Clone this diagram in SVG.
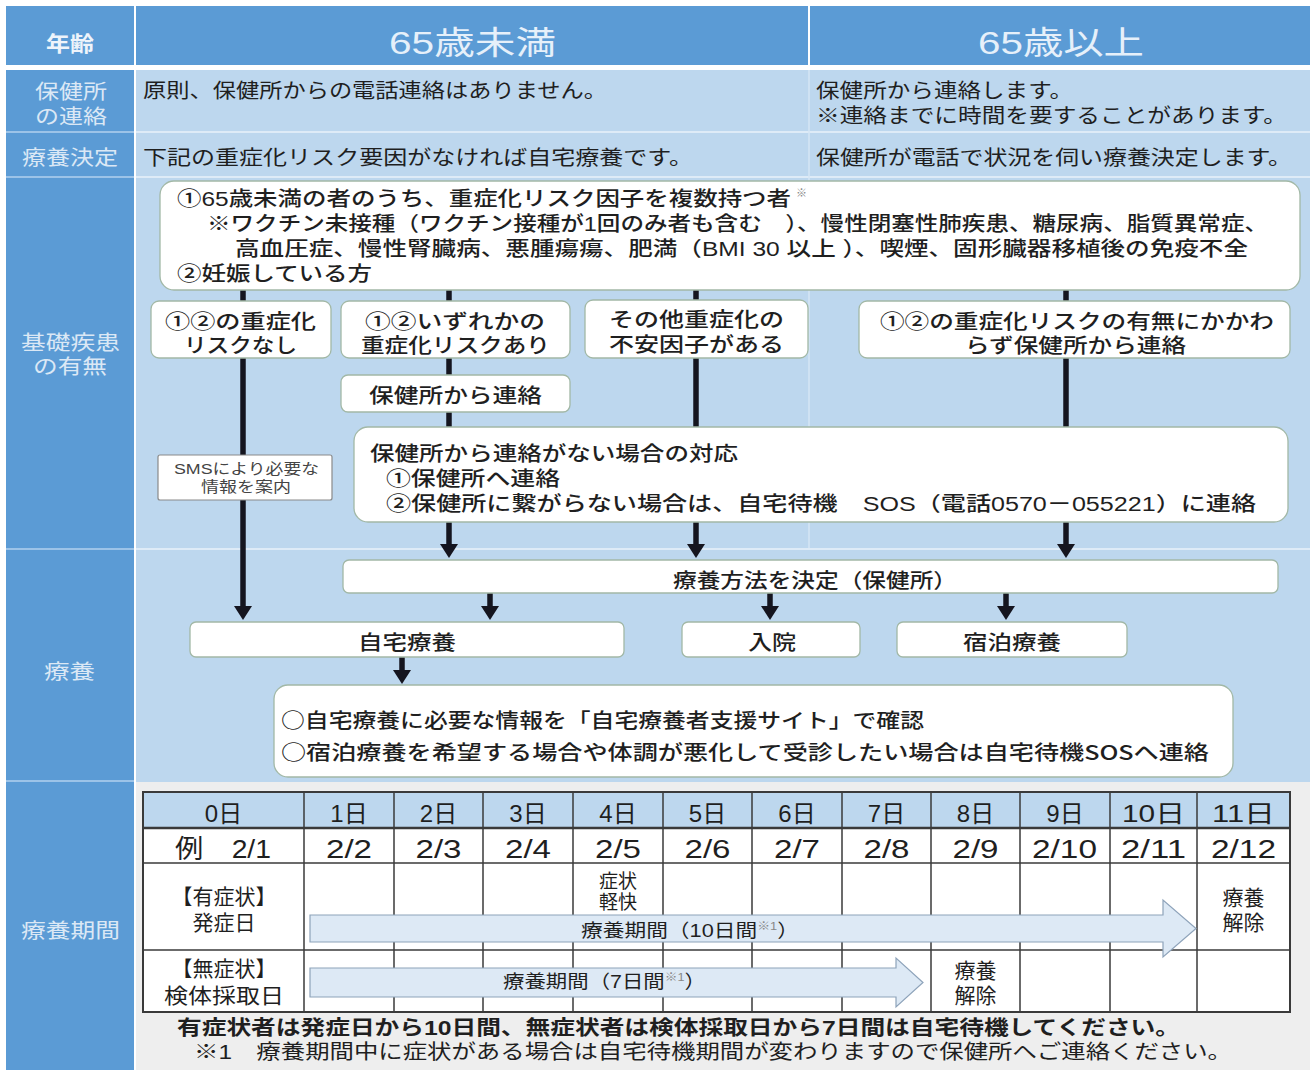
<svg xmlns="http://www.w3.org/2000/svg" width="1310" height="1070" viewBox="0 0 1310 1070">
<defs>
<style>
text { font-family: "Liberation Sans", "Noto Sans CJK JP", sans-serif; fill: #1f1f1f; font-size: 20px; font-weight: 500; }
.cjk { font-family: "Noto Sans CJK JP", "Liberation Sans", sans-serif; }
.lab { fill: #dbe8f5; font-size: 20.5px; font-weight: 400; }
.hdr { fill: #e6f0fa; font-size: 32px; font-weight: 400; }
.c { text-anchor: middle; }
.sm { font-size: 14.5px; fill: #444; font-weight: 400; }
.tb { font-size: 24px; font-weight: 400; }
.dt { font-size: 26px; font-weight: 400; }
.rl { font-size: 21px; font-weight: 400; }
.ar { font-size: 18.5px; font-weight: 400; }
.sup { font-size: 11px; fill: #888; }
.box { fill: #ffffff; stroke: #a2b8a6; stroke-width: 1.3; }
.sms { fill: #ffffff; stroke: #8a8a8a; stroke-width: 1.2; }
.lsep { stroke: #9cc3e8; stroke-width: 2; }
.sep { stroke: #deebf7; stroke-width: 2; }
.con { stroke: #15151f; stroke-width: 5.5; fill: none; }
.arr { marker-end: url(#ah); }
.grid { stroke: #3a3a3a; stroke-width: 1.5; fill: none; }
.blk { fill: #dde9f5; stroke: #8ea3ba; stroke-width: 1.2; }
</style>
<marker id="ah" viewBox="0 0 14 18" refX="1" refY="9" markerWidth="14" markerHeight="18" markerUnits="userSpaceOnUse" orient="auto">
<path d="M0,0 L14,9 L0,18 z" fill="#15151f"/>
</marker>
</defs>

<rect width="1310" height="1070" fill="#ffffff"/>

<g id="frame">
<rect x="6" y="6" width="128" height="59" fill="#5b9bd5"/>
<rect x="136" y="6" width="672" height="59" fill="#5b9bd5"/>
<rect x="810" y="6" width="500" height="59" fill="#5b9bd5"/>
<rect x="6" y="70" width="128" height="1000" fill="#5b9bd5"/>
<rect x="136" y="70" width="1174" height="712" fill="#bdd7ee"/>
<rect x="136" y="782" width="1174" height="288" fill="#eeeeee"/>
<line class="lsep" x1="6" y1="132" x2="134" y2="132"/>
<line class="lsep" x1="6" y1="177" x2="134" y2="177"/>
<line class="lsep" x1="6" y1="549" x2="134" y2="549"/>
<line class="lsep" x1="6" y1="781" x2="134" y2="781"/>
<line class="sep" x1="136" y1="132" x2="1310" y2="132"/>
<line class="sep" x1="136" y1="177" x2="1310" y2="177"/>
<line class="sep" x1="136" y1="549" x2="1310" y2="549"/>
<line x1="809" y1="70" x2="809" y2="548" stroke="#d6e6f5" stroke-width="1.5"/>
</g>

<g id="headers">
<text x="46" y="51" textLength="48" lengthAdjust="spacingAndGlyphs" style="fill:#eef4fb;font-size:21px;font-weight:700">年齢</text>
<text class="hdr" x="389" y="54" textLength="167" lengthAdjust="spacingAndGlyphs">65歳未満</text>
<text class="hdr" x="978" y="54" textLength="166" lengthAdjust="spacingAndGlyphs">65歳以上</text>
<text class="lab"><tspan x="35" y="99" textLength="72" lengthAdjust="spacingAndGlyphs">保健所</tspan><tspan x="35" y="124" textLength="72" lengthAdjust="spacingAndGlyphs">の連絡</tspan></text>
<text class="lab" x="22" y="165" textLength="96" lengthAdjust="spacingAndGlyphs">療養決定</text>
<text class="lab"><tspan x="21" y="350" textLength="99" lengthAdjust="spacingAndGlyphs">基礎疾患</tspan><tspan x="33" y="374" textLength="74" lengthAdjust="spacingAndGlyphs">の有無</tspan></text>
<text class="lab" x="44" y="679" textLength="51" lengthAdjust="spacingAndGlyphs">療養</text>
<text class="lab" x="21" y="938" textLength="99" lengthAdjust="spacingAndGlyphs">療養期間</text>
</g>

<g id="row-contact">
<text x="143" y="98" textLength="464" lengthAdjust="spacingAndGlyphs" style="font-weight:400">原則、保健所からの電話連絡はありません。</text>
<text style="font-weight:400"><tspan x="816" y="98" textLength="257" lengthAdjust="spacingAndGlyphs">保健所から連絡します。</tspan><tspan x="816" y="123" textLength="471" lengthAdjust="spacingAndGlyphs">※連絡までに時間を要することがあります。</tspan></text>
</g>

<g id="row-decision">
<text x="143" y="165" textLength="550" lengthAdjust="spacingAndGlyphs" style="font-weight:400">下記の重症化リスク要因がなければ自宅療養です。</text>
<text x="816" y="165" textLength="476" lengthAdjust="spacingAndGlyphs" style="font-weight:400">保健所が電話で状況を伺い療養決定します。</text>
</g>

<g id="connectors">
<line class="con" x1="243" y1="290" x2="243" y2="302"/>
<line class="con" x1="449" y1="290" x2="449" y2="302"/>
<line class="con" x1="696" y1="290" x2="696" y2="300"/>
<line class="con" x1="1066" y1="290" x2="1066" y2="302"/>
<line class="con" x1="243" y1="358" x2="243" y2="455"/>
<line class="con arr" x1="243" y1="500" x2="243" y2="607"/>
<line class="con" x1="449" y1="358" x2="449" y2="375"/>
<line class="con" x1="449" y1="412" x2="449" y2="427"/>
<line class="con arr" x1="449" y1="522" x2="449" y2="545"/>
<line class="con" x1="696" y1="358" x2="696" y2="427"/>
<line class="con arr" x1="696" y1="522" x2="696" y2="545"/>
<line class="con" x1="1066" y1="358" x2="1066" y2="427"/>
<line class="con arr" x1="1066" y1="522" x2="1066" y2="545"/>
<line class="con arr" x1="490" y1="593" x2="490" y2="607"/>
<line class="con arr" x1="770" y1="593" x2="770" y2="607"/>
<line class="con arr" x1="1006" y1="593" x2="1006" y2="607"/>
<line class="con arr" x1="402" y1="657" x2="402" y2="671"/>
</g>

<g id="node-risk-factors">
<rect class="box" x="160" y="181" width="1140" height="109" rx="14"/>
<text><tspan x="177" y="206" textLength="614" lengthAdjust="spacingAndGlyphs">①65歳未満の者のうち、重症化リスク因子を複数持つ者</tspan><tspan class="sup" x="796" y="197">※</tspan><tspan x="207" y="231" textLength="1061" lengthAdjust="spacingAndGlyphs">※ワクチン未接種（ワクチン接種が1回のみ者も含む　）、慢性閉塞性肺疾患、糖尿病、脂質異常症、</tspan><tspan x="235" y="256" textLength="1013" lengthAdjust="spacingAndGlyphs">高血圧症、慢性腎臓病、悪腫瘍瘍、肥満（BMI 30 以上 ）、喫煙、固形臓器移植後の免疫不全</tspan><tspan x="177" y="281" textLength="195" lengthAdjust="spacingAndGlyphs">②妊娠している方</tspan></text>
</g>

<g id="node-no-risk">
<rect class="box" x="151" y="301" width="180" height="57" rx="8"/>
<text><tspan x="165" y="329" textLength="151" lengthAdjust="spacingAndGlyphs">①②の重症化</tspan><tspan x="184" y="353" textLength="113" lengthAdjust="spacingAndGlyphs">リスクなし</tspan></text>
</g>

<g id="node-has-risk">
<rect class="box" x="341" y="301" width="229" height="57" rx="8"/>
<text><tspan x="365" y="329" textLength="180" lengthAdjust="spacingAndGlyphs">①②いずれかの</tspan><tspan x="361" y="353" textLength="189" lengthAdjust="spacingAndGlyphs">重症化リスクあり</tspan></text>
</g>

<g id="node-other-risk">
<rect class="box" x="585" y="300" width="223" height="58" rx="8"/>
<text><tspan x="609" y="327" textLength="175" lengthAdjust="spacingAndGlyphs">その他重症化の</tspan><tspan x="609" y="352" textLength="175" lengthAdjust="spacingAndGlyphs">不安因子がある</tspan></text>
</g>

<g id="node-over65">
<rect class="box" x="859" y="301" width="431" height="57" rx="8"/>
<text><tspan x="880" y="329" textLength="394" lengthAdjust="spacingAndGlyphs">①②の重症化リスクの有無にかかわ</tspan><tspan x="965" y="353" textLength="221" lengthAdjust="spacingAndGlyphs">らず保健所から連絡</tspan></text>
</g>

<g id="node-contact">
<rect class="box" x="341" y="375" width="229" height="37" rx="7"/>
<text x="369" y="403" textLength="173" lengthAdjust="spacingAndGlyphs">保健所から連絡</text>
</g>

<g id="node-sms">
<rect class="sms" x="158" y="455" width="174" height="45" rx="2"/>
<text class="sm"><tspan x="174" y="474" textLength="145" lengthAdjust="spacingAndGlyphs">SMSにより必要な</tspan><tspan x="201" y="492" textLength="90" lengthAdjust="spacingAndGlyphs">情報を案内</tspan></text>
</g>

<g id="node-no-contact">
<rect class="box" x="354" y="427" width="934" height="95" rx="14"/>
<text><tspan x="370" y="461" textLength="368" lengthAdjust="spacingAndGlyphs">保健所から連絡がない場合の対応</tspan><tspan x="386" y="486" textLength="174" lengthAdjust="spacingAndGlyphs">①保健所へ連絡</tspan><tspan x="386" y="511" textLength="870" lengthAdjust="spacingAndGlyphs">②保健所に繋がらない場合は、自宅待機　SOS（電話0570－055221）に連絡</tspan></text>
</g>

<g id="node-decide">
<rect class="box" x="343" y="560" width="935" height="33" rx="6"/>
<text x="673" y="588" textLength="284" lengthAdjust="spacingAndGlyphs">療養方法を決定（保健所）</text>
</g>

<g id="node-home">
<rect class="box" x="190" y="622" width="434" height="35" rx="6"/>
<text x="358" y="650" textLength="98" lengthAdjust="spacingAndGlyphs">自宅療養</text>
</g>

<g id="node-hospital">
<rect class="box" x="682" y="622" width="178" height="35" rx="6"/>
<text x="748" y="650" textLength="48" lengthAdjust="spacingAndGlyphs">入院</text>
</g>

<g id="node-hotel">
<rect class="box" x="897" y="622" width="230" height="35" rx="6"/>
<text x="963" y="650" textLength="98" lengthAdjust="spacingAndGlyphs">宿泊療養</text>
</g>

<g id="node-info">
<rect class="box" x="274" y="685" width="959" height="92" rx="14"/>
<text class="cjk"><tspan x="281" y="728" textLength="643" lengthAdjust="spacingAndGlyphs">○自宅療養に必要な情報を「自宅療養者支援サイト」で確認</tspan><tspan x="281" y="760" textLength="928" lengthAdjust="spacingAndGlyphs">○宿泊療養を希望する場合や体調が悪化して受診したい場合は自宅待機SOSへ連絡</tspan></text>
</g>

<g id="node-period-table">
<rect x="143" y="792" width="1147" height="36" fill="#bdd7ee"/>
<rect x="143" y="828" width="1147" height="184" fill="#ffffff"/>
<g class="grid">
<line x1="304" y1="792" x2="304" y2="1012"/>
<line x1="394" y1="792" x2="394" y2="1012"/>
<line x1="483" y1="792" x2="483" y2="1012"/>
<line x1="573" y1="792" x2="573" y2="1012"/>
<line x1="663" y1="792" x2="663" y2="1012"/>
<line x1="752" y1="792" x2="752" y2="1012"/>
<line x1="842" y1="792" x2="842" y2="1012"/>
<line x1="931" y1="792" x2="931" y2="1012"/>
<line x1="1020" y1="792" x2="1020" y2="1012"/>
<line x1="1110" y1="792" x2="1110" y2="1012"/>
<line x1="1197" y1="792" x2="1197" y2="1012"/>
<line x1="143" y1="863" x2="1290" y2="863"/>
<line x1="143" y1="950" x2="1290" y2="950"/>
<line x1="143" y1="828" x2="1290" y2="828" stroke-width="2.5"/>
<rect x="143" y="792" width="1147" height="220" stroke-width="2"/>
</g>
<text class="tb c" x="223.5" y="822">0日</text>
<text class="tb c" x="349" y="822">1日</text>
<text class="tb c" x="438.5" y="822">2日</text>
<text class="tb c" x="528" y="822">3日</text>
<text class="tb c" x="618" y="822">4日</text>
<text class="tb c" x="707.5" y="822">5日</text>
<text class="tb c" x="797" y="822">6日</text>
<text class="tb c" x="886.5" y="822">7日</text>
<text class="tb c" x="975.5" y="822">8日</text>
<text class="tb c" x="1065" y="822">9日</text>
<text class="tb" x="1122" y="822" textLength="63" lengthAdjust="spacingAndGlyphs">10日</text>
<text class="tb" x="1212" y="822" textLength="63" lengthAdjust="spacingAndGlyphs">11日</text>
<text class="dt" x="175" y="858" textLength="96" lengthAdjust="spacingAndGlyphs">例　2/1</text>
<text class="dt" x="326" y="858" textLength="46" lengthAdjust="spacingAndGlyphs">2/2</text>
<text class="dt" x="415.5" y="858" textLength="46" lengthAdjust="spacingAndGlyphs">2/3</text>
<text class="dt" x="505" y="858" textLength="46" lengthAdjust="spacingAndGlyphs">2/4</text>
<text class="dt" x="595" y="858" textLength="46" lengthAdjust="spacingAndGlyphs">2/5</text>
<text class="dt" x="684.5" y="858" textLength="46" lengthAdjust="spacingAndGlyphs">2/6</text>
<text class="dt" x="774" y="858" textLength="46" lengthAdjust="spacingAndGlyphs">2/7</text>
<text class="dt" x="863.5" y="858" textLength="46" lengthAdjust="spacingAndGlyphs">2/8</text>
<text class="dt" x="952.5" y="858" textLength="46" lengthAdjust="spacingAndGlyphs">2/9</text>
<text class="dt" x="1032" y="858" textLength="65" lengthAdjust="spacingAndGlyphs">2/10</text>
<text class="dt" x="1121" y="858" textLength="65" lengthAdjust="spacingAndGlyphs">2/11</text>
<text class="dt" x="1211" y="858" textLength="65" lengthAdjust="spacingAndGlyphs">2/12</text>
<text class="rl c"><tspan x="224" y="904">【有症状】</tspan><tspan x="224" y="930">発症日</tspan></text>
<text class="rl"><tspan x="224" y="976" text-anchor="middle">【無症状】</tspan><tspan x="164" y="1003" textLength="120" lengthAdjust="spacingAndGlyphs">検体採取日</tspan></text>
<text class="rl c" style="font-size:19px"><tspan x="618" y="888">症状</tspan><tspan x="618" y="909">軽快</tspan></text>
<text class="rl c"><tspan x="1243.5" y="905">療養</tspan><tspan x="1243.5" y="930">解除</tspan></text>
<text class="rl c"><tspan x="975.5" y="978">療養</tspan><tspan x="975.5" y="1003">解除</tspan></text>
<polygon class="blk" points="310,915 1163,915 1163,900 1196,928.5 1163,957 1163,942 310,942"/>
<polygon class="blk" points="310,968 896,968 896,958 923,982.5 896,1007 896,997 310,997"/>
<text class="ar" x="581" y="937" textLength="218" lengthAdjust="spacingAndGlyphs">療養期間（10日間<tspan class="sup" dy="-7">※1</tspan><tspan dy="7">）</tspan></text>
<text class="ar" x="503" y="988" textLength="203" lengthAdjust="spacingAndGlyphs">療養期間（7日間<tspan class="sup" dy="-7">※1</tspan><tspan dy="7">）</tspan></text>
</g>

<g id="notes">
<text><tspan x="177" y="1035" textLength="1003" lengthAdjust="spacingAndGlyphs" style="font-weight:700">有症状者は発症日から10日間、無症状者は検体採取日から7日間は自宅待機してください。</tspan><tspan x="194" y="1059" textLength="1038" lengthAdjust="spacingAndGlyphs" style="font-weight:400">※1　療養期間中に症状がある場合は自宅待機期間が変わりますので保健所へご連絡ください。</tspan></text>
</g>
</svg>
